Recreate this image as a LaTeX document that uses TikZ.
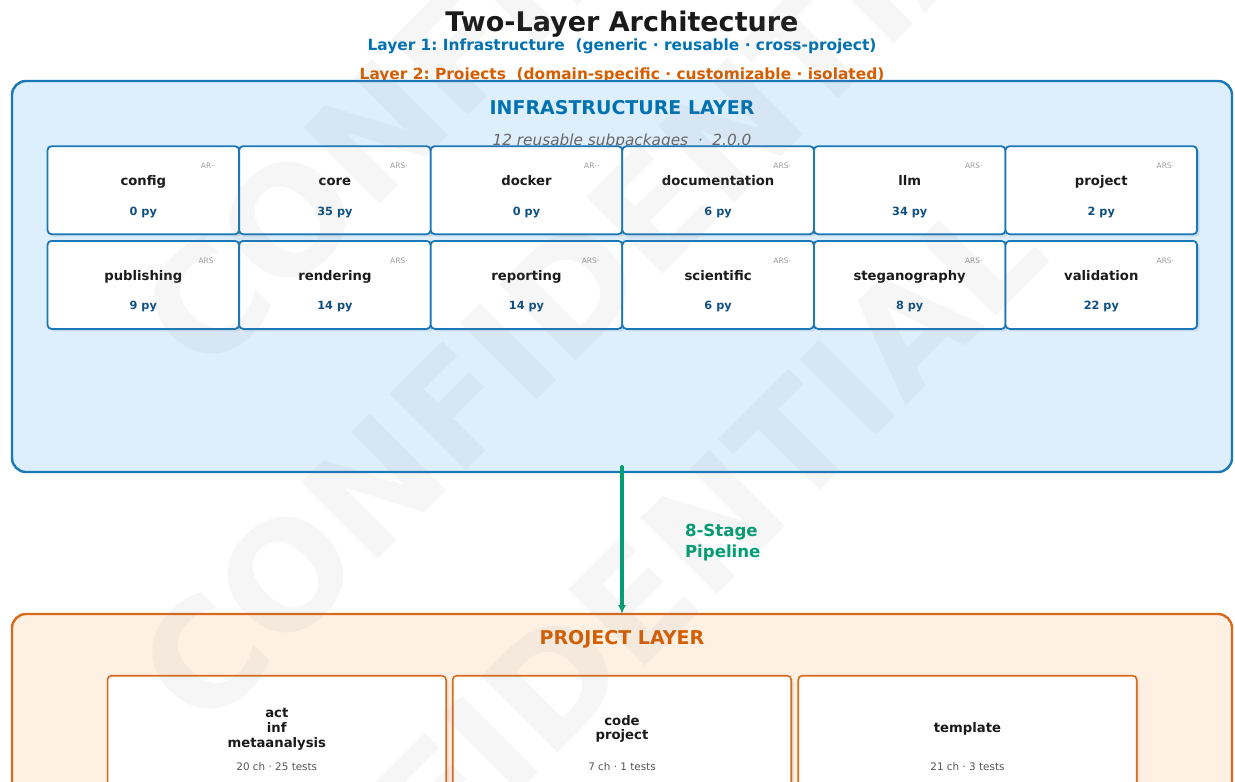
\documentclass[tikz,border=0pt]{standalone}
\usepackage{fontspec}
\setmainfont{DejaVu Sans}
\usetikzlibrary{arrows.meta,shadows}
\frenchspacing

\definecolor{infblue}{HTML}{0072B2}
\definecolor{infedge}{HTML}{1A78B8}
\definecolor{inffill}{HTML}{DDEEFD}
\definecolor{projor}{HTML}{D55E00}
\definecolor{projedge}{HTML}{D9691C}
\definecolor{projfill}{HTML}{FEF0E3}
\definecolor{pipegreen}{HTML}{009E73}
\definecolor{inkdark}{HTML}{1A1A1A}
\definecolor{pycol}{HTML}{0E4F82}
\definecolor{taggray}{HTML}{9A9A9A}
\definecolor{statgray}{HTML}{555555}
\definecolor{subgray}{HTML}{666666}

\newcommand\fsz[1]{\fontsize{#1}{#1}\selectfont}

\tikzset{
  every node/.style={inner sep=0pt, outer sep=0pt},
  headline/.style={anchor=base, font={\bfseries\fsz{27}}, text=inkdark},
  layerline/.style={anchor=base, font={\bfseries\fsz{15.4}}},
  layerbox/.style={draw, line width=2.4pt, rounded corners=14pt, minimum width=1220pt},
  layertitle/.style={anchor=base, font={\bfseries\fsz{19}}},
  subline/.style={anchor=base, font={\itshape\fsz{15.3}}, text=subgray},
  pkgcard/.style={draw=infedge, fill=white, line width=1.8pt, rounded corners=4pt,
    minimum width=191.6pt, minimum height=88pt,
    drop shadow={shadow xshift=2.5pt, shadow yshift=-2.5pt, opacity=0.08, fill=black}},
  pkgname/.style={anchor=base, font={\bfseries\fsz{13.2}}, text=inkdark},
  pkgcount/.style={anchor=base, font={\bfseries\fsz{11.3}}, text=pycol},
  pkgtag/.style={anchor=base east, font={\fsz{7.5}}, text=taggray},
  projcard/.style={draw=projedge, fill=white, line width=1.6pt, rounded corners=4pt,
    minimum width=338.5pt, minimum height=140pt,
    drop shadow={shadow xshift=2.5pt, shadow yshift=-2.5pt, opacity=0.08, fill=black}},
  projname/.style={anchor=base, font={\bfseries\fsz{13.2}}, text=inkdark},
  projstat/.style={anchor=base, font={\fsz{10.4}}, text=statgray},
  pipeline/.style={draw=pipegreen, line width=4pt, line cap=round,
    -{Latex[length=9pt,width=8pt]}},
  pipetext/.style={anchor=base west, font={\bfseries\fsz{16.6}}, text=pipegreen},
  watermark/.style={anchor=west, rotate=45, font={\bfseries\fsz{148}},
    text=gray, text opacity=0.07}
}

\begin{document}
\begin{tikzpicture}[x=1pt,y=-1pt]
\clip (0,0) rectangle (1235,782);
\fill[white] (0,0) rectangle (1235,782);

% page headings
\node[headline] (title) at (622,31) {Two-Layer Architecture};
\node[layerline, text=infblue] (layer1) at (622,50.7)
  {Layer 1: Infrastructure~~(generic · reusable · cross-project)};
\node[layerline, text=projor] (layer2) at (622,79.3)
  {Layer 2: Projects~~(domain-specific · customizable · isolated)};

% infrastructure layer
\node[layerbox, draw=infedge, fill=inffill, minimum height=391pt] (infra) at (622,276.5) {};
\node[layertitle, text=infblue] (infratitle) at (622,114) {INFRASTRUCTURE LAYER};
\node[subline] (infrasub) at (622,145.7) {12 reusable subpackages~~·~~2.0.0};

\foreach \nm/\py/\tag [count=\i from 0] in
  {config/0/AR··, core/35/ARS·, docker/0/AR··, documentation/6/ARS·, llm/34/ARS·, project/2/ARS·}{
  \node[pkgcard] (pkg-\nm) at ({143.3+191.6*\i},190.2) {};
  \node[pkgname] (pkg-\nm-name) at ([yshift=4.5pt]pkg-\nm.center) {\nm};
  \node[pkgcount] (pkg-\nm-py) at ([yshift=-24.8pt]pkg-\nm.center) {\py\ py};
  \node[pkgtag] (pkg-\nm-tag) at ([xshift=72.8pt,yshift=21.5pt]pkg-\nm.center) {\tag};
}
\foreach \nm/\py/\tag [count=\i from 0] in
  {publishing/9/ARS·, rendering/14/ARS·, reporting/14/ARS·, scientific/6/ARS·, steganography/8/ARS·, validation/22/ARS·}{
  \node[pkgcard] (pkg-\nm) at ({143.3+191.6*\i},284.9) {};
  \node[pkgname] (pkg-\nm-name) at ([yshift=4.5pt]pkg-\nm.center) {\nm};
  \node[pkgcount] (pkg-\nm-py) at ([yshift=-24.8pt]pkg-\nm.center) {\py\ py};
  \node[pkgtag] (pkg-\nm-tag) at ([xshift=72.8pt,yshift=21.5pt]pkg-\nm.center) {\tag};
}

% project layer
\node[layerbox, draw=projedge, fill=projfill, minimum height=286pt] (proj) at (622,757) {};
\node[layertitle, text=projor] (projtitle) at (622,644.3) {PROJECT LAYER};

\node[projcard] (prj-act) at (276.8,745.7) {};
\node[projcard] (prj-code) at (622,745.7) {};
\node[projcard] (prj-template) at (967.5,745.7) {};

\node[projname] (prj-act-l1) at (276.8,717.7) {act};
\node[projname] (prj-act-l2) at (276.8,732.4) {inf};
\node[projname] (prj-act-l3) at (276.8,747.1) {metaanalysis};
\node[projstat] (prj-act-stat) at (276.8,770) {20 ch · 25 tests};

\node[projname] (prj-code-l1) at (622,725.05) {code};
\node[projname] (prj-code-l2) at (622,739.75) {project};
\node[projstat] (prj-code-stat) at (622,770) {7 ch · 1 tests};

\node[projname] (prj-template-l1) at (967.5,732.4) {template};
\node[projstat] (prj-template-stat) at (967.5,770) {21 ch · 3 tests};

% pipeline between the layers
\draw[pipeline] ([yshift=5pt]infra.south) -- (proj.north);
\node[pipetext] (pipe-l1) at (685,536) {8-Stage};
\node[pipetext] (pipe-l2) at (685,557.7) {Pipeline};

% watermark overlay
\foreach \wx/\wy [count=\k] in {167/-14, 167/341, 165/696, 147/1088}
  \node[watermark] (wm\k) at (\wx,\wy) {CONFIDENTIAL};
\end{tikzpicture}
\end{document}
